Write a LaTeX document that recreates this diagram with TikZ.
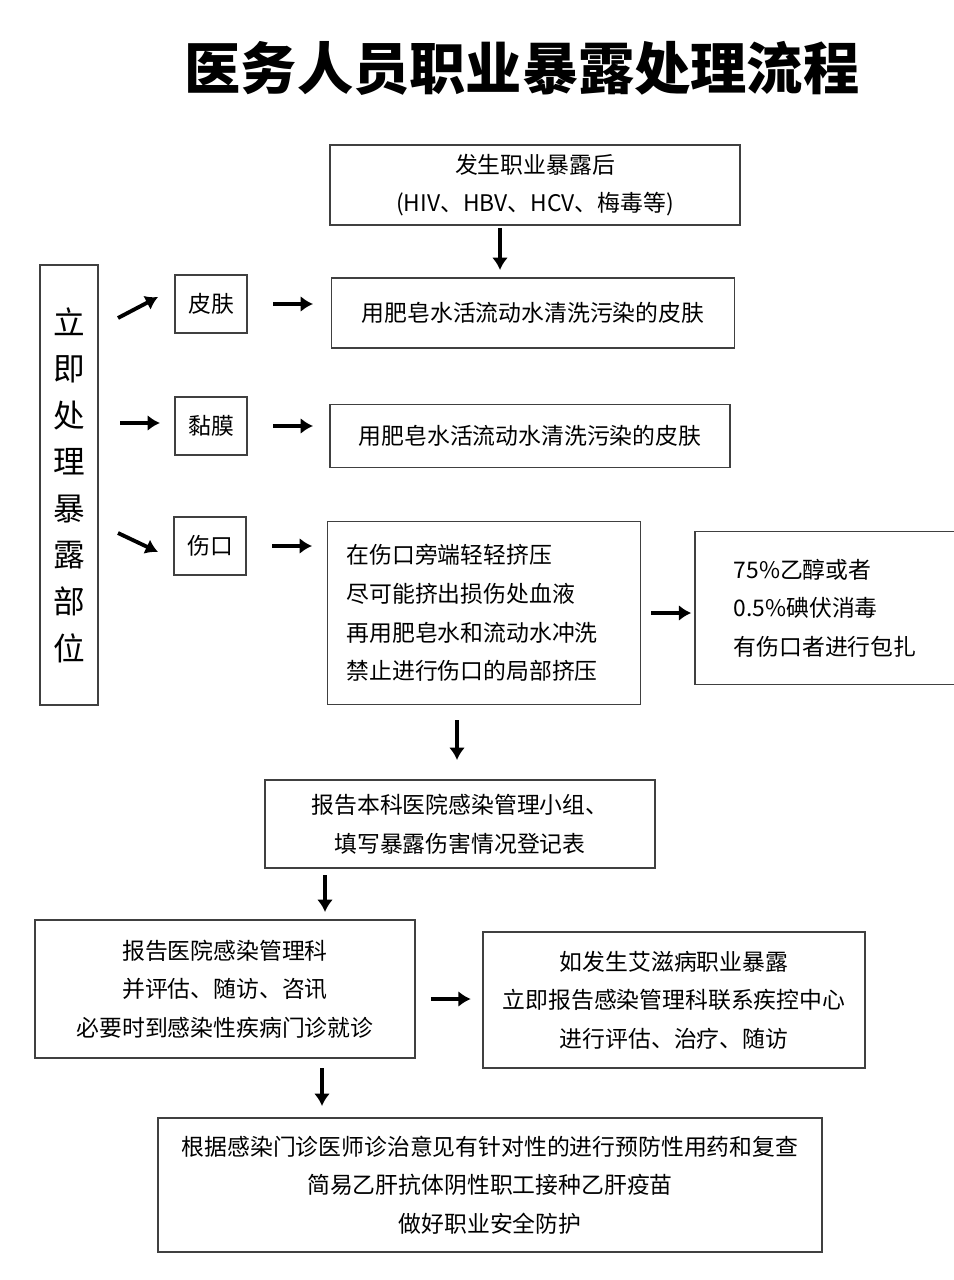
\documentclass[tikz,border=0pt]{standalone}
\usepackage{fontspec}
\setmainfont{Noto Sans CJK SC}
\usetikzlibrary{arrows.meta}
\tikzset{
  box/.style={draw=black!75, line width=0.9pt, align=center, font=\fontsize{13}{22}\selectfont, inner sep=0pt},
  tag/.style={box, minimum width=1.45cm, minimum height=1.15cm},
  go/.style={-{Latex[length=7pt,width=9pt]}, line width=2.2pt, shorten >=0pt}
}
\begin{document}
\begin{tikzpicture}[x=0.02cm,y=-0.02cm]
  \useasboundingbox[fill=white] (0,0) rectangle (953,1280);
  \node[font=\fontsize{32}{34}\selectfont\bfseries] (title) at (522,68) {医务人员职业暴露处理流程};

  \node[box, minimum width=8.2cm, minimum height=1.6cm] (start) at (535,185) {发生职业暴露后\\(HIV、HBV、HCV、梅毒等)};
  \node[box, minimum width=1.16cm, minimum height=8.8cm, font=\fontsize{18}{26.5}\selectfont] (site) at (69,485) {立\\即\\处\\理\\暴\\露\\部\\位};

  % three exposure sites
  \node[tag] (skin) at (211,304) {皮肤};
  \node[box, minimum width=8.06cm, minimum height=1.4cm] (skinact) at (533,313) {用肥皂水活流动水清洗污染的皮肤};
  \node[tag] (mucosa) at (211,426) {黏膜};
  \node[box, minimum width=8.0cm, minimum height=1.26cm] (mucact) at (530,436) {用肥皂水活流动水清洗污染的皮肤};
  \node[tag] (wound) at (210,546) {伤口};
  \node[box, minimum width=6.26cm, minimum height=3.66cm, align=left, text width=5.5cm] (woundact) at (484,613) {在伤口旁端轻轻挤压\\尽可能挤出损伤处血液\\再用肥皂水和流动水冲洗\\禁止进行伤口的局部挤压};
  \node[box, minimum width=5.2cm, minimum height=3.06cm, align=left] (disinfect) at (825,608) {75\%乙醇或者\\0.5\%碘伏消毒\\有伤口者进行包扎};

  % reporting
  \node[box, minimum width=7.8cm, minimum height=1.76cm] (report) at (460,824) {报告本科医院感染管理小组、\\填写暴露伤害情况登记表};
  \node[box, minimum width=7.6cm, minimum height=2.76cm] (hospital) at (225,989) {报告医院感染管理科\\并评估、随访、咨讯\\必要时到感染性疾病门诊就诊};
  \node[box, minimum width=7.64cm, minimum height=2.72cm] (aids) at (674,1000) {如发生艾滋病职业暴露\\立即报告感染管理科联系疾控中心\\进行评估、治疗、随访};
  \node[box, minimum width=13.28cm, minimum height=2.68cm] (follow) at (490,1185) {根据感染门诊医师诊治意见有针对性的进行预防性用药和复查\\简易乙肝抗体阴性职工接种乙肝疫苗\\做好职业安全防护};

  % arrows
  \coordinate (a1) at (500,228);
  \coordinate (a2) at (500,270);
  \draw[go] (a1) -- (a2);
  \draw[go] (118,318) -- (158,297);
  \draw[go] (120,423) -- (160,423);
  \draw[go] (118,533) -- (158,552);
  \draw[go] (skin.east) ++(25,0) -- +(40,0);
  \draw[go] (mucosa.east) ++(25,0) -- +(40,0);
  \draw[go] (wound.east) ++(25,0) -- +(40,0);
  \draw[go] (woundact.east) ++(10,0) -- +(40,0);
  \draw[go] (457,720) -- (457,760);
  \draw[go] (325,875) -- (325,912);
  \draw[go] (hospital.east) ++(15,10) -- +(40,0);
  \draw[go] (322,1068) -- (322,1106);
\end{tikzpicture}
\end{document}
